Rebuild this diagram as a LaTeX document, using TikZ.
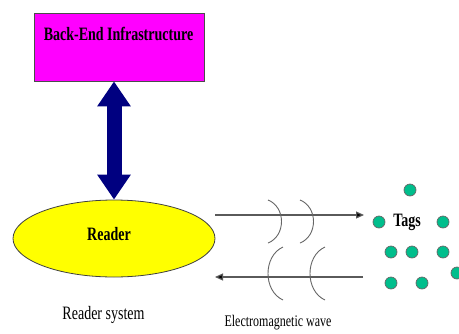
\documentclass[tikz,border=0pt]{standalone}
\usepackage{fontspec}
\usepackage{graphicx}
\setmainfont{Liberation Serif}
\usetikzlibrary{shapes.geometric,arrows.meta,calc}
\definecolor{boxmag}{RGB}{255,0,255}
\definecolor{navyarr}{RGB}{0,0,128}
\definecolor{readeryel}{RGB}{255,255,0}
\definecolor{tagfill}{RGB}{0,190,140}
\definecolor{wavegray}{RGB}{90,90,90}
\newcommand{\vstretch}[1]{\scalebox{1}[1.35]{#1}}
\tikzset{
  bebox/.style={draw=black!70, line width=0.8pt, fill=boxmag, minimum width=170pt, minimum height=68pt, inner sep=0pt},
  readerell/.style={ellipse, draw=black!75, line width=0.8pt, fill=readeryel, minimum width=202pt, minimum height=77pt, inner sep=0pt},
  boldlbl/.style={font=\fontsize{14}{16}\selectfont\bfseries, inner sep=0pt},
  plainlbl/.style={inner sep=0pt},
  tagdot/.style={circle, draw=black!60, line width=0.7pt, fill=tagfill, minimum size=12pt, inner sep=0pt},
  wavearrow/.style={draw=wavegray, line width=1.2pt, -{Triangle[length=8pt,width=7pt,fill=black]}},
  wavearc/.style={draw=black!60, line width=0.9pt},
  bigarrow/.style={draw=navyarr, line width=15pt, {Triangle[length=25pt,width=32pt]}-{Triangle[length=25pt,width=32pt]}}
}
\begin{document}
\begin{tikzpicture}[x=1pt,y=-1pt]
\useasboundingbox (0,0) rectangle (459,333);
% back-end box
\node[bebox] (be) at (119,47) {};
\node[boldlbl] (betext) at (118.5,34) {\vstretch{Back-End Infrastructure}};
% reader
\node[readerell] (reader) at (114,238.5) {};
\node[boldlbl] (readertext) at (109,234.5) {\vstretch{Reader}};
\node[plainlbl, font=\fontsize{14}{16}\selectfont] (rsys) at (103.5,315) {\vstretch{Reader system}};
% double arrow
\draw[bigarrow] (be.south -| reader.north) -- (reader.north);
% tags
\node[boldlbl] (tags) at (407,222) {\vstretch{Tags}};
\node[tagdot] (t1) at (410,190) {};
\node[tagdot] (t2) at (379,222) {};
\node[tagdot] (t3) at (443,222) {};
\node[tagdot] (t4) at (391,252) {};
\node[tagdot] (t5) at (412,252) {};
\node[tagdot] (t6) at (443,252) {};
\node[tagdot] (t7) at (457,273) {};
\node[tagdot] (t8) at (391,283) {};
\node[tagdot] (t9) at (422,283) {};
% wave arrows
\coordinate (ustart) at (215,215);
\coordinate (uend) at (364,215);
\coordinate (lstart) at (363,277);
\coordinate (lend) at (215,277);
\draw[wavearrow] (ustart) -- (uend);
\draw[wavearrow] (lstart) -- (lend);
% arcs
\draw[wavearc] (268,200) .. controls (286,207) and (286,236) .. (268,243);
\draw[wavearc] (300,200) .. controls (318,207) and (318,236) .. (300,243);
\draw[wavearc] (283,247) .. controls (263,256) and (263,291) .. (283,300);
\draw[wavearc] (325,247) .. controls (305,256) and (305,291) .. (325,300);
\node[plainlbl, font=\fontsize{12}{14}\selectfont] (emw) at (278,323) {\vstretch{Electromagnetic wave}};
\end{tikzpicture}
\end{document}
